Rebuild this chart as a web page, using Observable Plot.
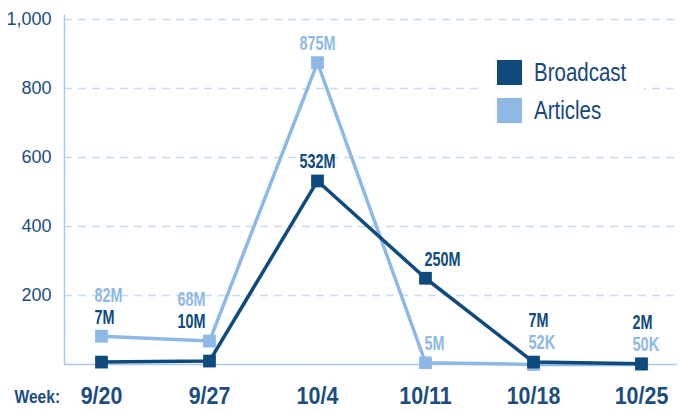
<!DOCTYPE html>
<html>
<head>
<meta charset="utf-8">
<script src="https://cdn.jsdelivr.net/npm/d3@7"></script>
<script src="https://cdn.jsdelivr.net/npm/@observablehq/plot@0.6"></script>
<style>
  html, body { margin: 0; padding: 0; background: #fff; }
  #wrap { position: relative; width: 681px; height: 411px; font-family: "Liberation Sans", Arial, sans-serif; }
  #legend { position: absolute; left: 482px; top: 42px; width: 162px; height: 92px; background: #fff; }
  .item { position: absolute; left: 15px; display: flex; align-items: center; font-size: 25px; color: #17487a; white-space: nowrap; }
  .sw { width: 25px; height: 25px; margin-right: 12px; flex: none; }
  .item span { display: inline-block; transform: scaleX(0.82); transform-origin: left center; }
</style>
</head>
<body>
<div id="wrap"></div>
<script>
// ---- data ----
const weeks = ["9/20", "9/27", "10/4", "10/11", "10/18", "10/25"];
const broadcast = [7, 10, 532, 250, 7, 2];
const articles = [82, 68, 875, 5, 0.052, 0.05];
const broadcastLabels = ["7M", "10M", "532M", "250M", "7M", "2M"];
const articlesLabels = ["82M", "68M", "875M", "5M", "52K", "50K"];
const yTicks = [200, 400, 600, 800, 1000];
const seriesNames = ["Broadcast", "Articles"];
const xPrefix = "Week:";

// ---- style ----
const DARK = "#0f4a7e";
const LIGHT = "#8eb9e5";
const AXIS = "#a9c9ee";
const GRID = "#c9dcf1";
const TEXT = "#1c4d80";
const FONT = '"Liberation Sans", Arial, sans-serif';
const labelAlign = ["start", "end", "middle", "start", "start", "start"];
const labelDx = [-7, -4, 0, -1, -5, -9];
// horizontal condensing by font size (imitates a condensed typeface)
const condense = {"20px": 0.72, "19px": 0.82, "23px": 0.93};

const rowsB = weeks.map((w, i) => ({week: w, value: broadcast[i], label: broadcastLabels[i]}));
const rowsA = weeks.map((w, i) => ({week: w, value: articles[i], label: articlesLabels[i]}));

// label layout: stack both labels above the higher point when the points are close
const labels = [];
weeks.forEach((w, i) => {
  const a = articles[i], b = broadcast[i];
  if (Math.abs(a - b) < 150) {
    const top = Math.max(a, b);
    const aHigh = a > b;
    labels.push({i, week: w, y: top, text: aHigh ? articlesLabels[i] : broadcastLabels[i], color: aHigh ? LIGHT : DARK, tier: 2});
    labels.push({i, week: w, y: top, text: aHigh ? broadcastLabels[i] : articlesLabels[i], color: aHigh ? DARK : LIGHT, tier: 1});
  } else {
    labels.push({i, week: w, y: a, text: articlesLabels[i], color: LIGHT, tier: 1});
    labels.push({i, week: w, y: b, text: broadcastLabels[i], color: DARK, tier: 1});
  }
});

const labelMarks = [];
for (let i = 0; i < weeks.length; i++) {
  for (const tier of [1, 2]) {
    labelMarks.push(Plot.text(labels.filter(d => d.i === i && d.tier === tier), {
      x: "week", y: "y", text: "text", fill: "color",
      textAnchor: labelAlign[i], dx: labelDx[i], dy: tier === 1 ? -19 : -41,
      fontSize: 20, fontWeight: "bold", lineAnchor: "middle"
    }));
  }
}

const chart = Plot.plot({
  width: 681,
  height: 411,
  marginLeft: 64,
  marginRight: 4,
  marginTop: 15,
  marginBottom: 47,
  style: {fontFamily: FONT, background: "transparent", overflow: "visible"},
  x: {type: "point", domain: weeks, padding: 0.32, label: null},
  y: {domain: [0, 1011.6], label: null},
  marks: [
    Plot.ruleY(yTicks, {stroke: GRID, strokeWidth: 1.5, strokeDasharray: "8,6"}),
    Plot.axisY({ticks: yTicks, tickSize: 0, tickPadding: 13, tickFormat: d3.format(","), fontSize: 18, fill: TEXT, label: null}),
    Plot.axisX({tickSize: 0, tickPadding: 23, fontSize: 23, fontWeight: "bold", fill: TEXT, label: null}),
    Plot.frame({anchor: "left", stroke: AXIS, strokeWidth: 1.5}),
    Plot.ruleY([0], {stroke: AXIS, strokeWidth: 1.5}),
    Plot.text([xPrefix], {frameAnchor: "bottom-left", dx: -50, dy: 32, textAnchor: "start", lineAnchor: "middle", fontSize: 19, fontWeight: "bold", fill: TEXT}),
    Plot.line(rowsA, {x: "week", y: "value", stroke: LIGHT, strokeWidth: 3.5}),
    Plot.dot(rowsA, {x: "week", y: "value", symbol: "square", r: 7.2, fill: LIGHT, stroke: null}),
    Plot.line(rowsB, {x: "week", y: "value", stroke: DARK, strokeWidth: 3.5}),
    Plot.dot(rowsB, {x: "week", y: "value", symbol: "square", r: 7.2, fill: DARK, stroke: null}),
    ...labelMarks
  ]
});

const wrap = document.getElementById("wrap");
wrap.appendChild(chart);

chart.querySelectorAll("text").forEach(t => {
  const f = condense[getComputedStyle(t).fontSize];
  if (!f) return;
  const len = t.getBBox().width;
  if (len > 0) {
    t.setAttribute("textLength", (len * f).toFixed(1));
    t.setAttribute("lengthAdjust", "spacingAndGlyphs");
  }
});

const legend = document.createElement("div");
legend.id = "legend";
[[seriesNames[0], DARK, 16], [seriesNames[1], LIGHT, 54]].forEach(([name, color, top]) => {
  const item = document.createElement("div");
  item.className = "item";
  item.style.top = top + "px";
  const sw = document.createElement("div");
  sw.className = "sw";
  sw.style.background = color;
  const t = document.createElement("span");
  t.textContent = name;
  item.appendChild(sw);
  item.appendChild(t);
  legend.appendChild(item);
});
wrap.appendChild(legend);
</script>
</body>
</html>
